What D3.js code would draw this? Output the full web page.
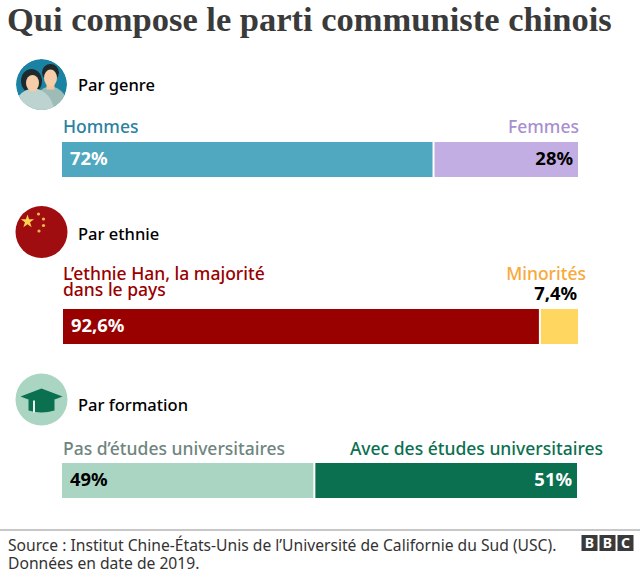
<!DOCTYPE html>
<html lang="fr">
<head>
<meta charset="utf-8">
<title>Qui compose le parti communiste chinois</title>
<script src="https://cdn.jsdelivr.net/npm/d3@7"></script>
<style>
  html, body { margin: 0; padding: 0; background: #fff; }
  svg { display: block; }
  text { font-family: "Noto Sans", sans-serif; }
</style>
</head>
<body>
<svg id="chart" viewBox="0 0 640 582" width="640" height="582"></svg>
<script>
const chartTitle = "Qui compose le parti communiste chinois"
const groupNames = ["Par genre", "Par ethnie", "Par formation"]
const leftNames = ["Hommes", "L’ethnie Han, la majorité|dans le pays", "Pas d’études universitaires"]
const rightNames = ["Femmes", "Minorités", "Avec des études universitaires"]
const leftValues = [72, 92.6, 49]
const rightValues = [28, 7.4, 51]
const leftLabels = ["72%", "92,6%", "49%"]
const rightLabels = ["28%", "7,4%", "51%"]
const sourceLines = ["Source : Institut Chine-États-Unis de l’Université de Californie du Sud (USC).", "Données en date de 2019."]

const svg = d3.select("#chart")

// layout of each block, the values stay in the arrays above
const layout = [
    {headY: 91, barY: 142, x0: 62, x1: 578, nameY: 133, rightNameX: 579, leftFill: "#4fa8bf", rightFill: "#c3aee3",
     leftColor: "#2b82a0", rightColor: "#a98fd0", leftText: "#fff", rightText: "#000"},
    {headY: 240, barY: 309, x0: 63, x1: 578, nameY: 280, rightNameX: 586, leftFill: "#990000", rightFill: "#ffd65f",
     leftColor: "#990000", rightColor: "#f9a83a", leftText: "#fff", rightText: "#000"},
    {headY: 411, barY: 463, x0: 62, x1: 577, nameY: 455, rightNameX: 603, leftFill: "#a9d5c2", rightFill: "#0a7050",
     leftColor: "#6f8580", rightColor: "#0a7050", leftText: "#000", rightText: "#fff"}
]
const barHeight = 35

svg.append("text")
    .attr("x", 7).attr("y", 31)
    .style("font-family", "'Liberation Serif', serif")
    .style("font-size", "34.5px")
    .style("font-weight", 700)
    .style("fill", "#3a3a3a")
    .text(chartTitle)

groupNames.forEach((name, i) => {
    const l = layout[i]
    const g = svg.append("g")
    const x = d3.scaleLinear().domain([0, 100]).range([l.x0, l.x1])

    g.append("text")
        .attr("x", 78).attr("y", l.headY)
        .style("font-size", "16.5px")
        .style("font-weight", 500)
        .style("fill", "#000")
        .text(name)

    // segment names
    leftNames[i].split("|").forEach((t, j) => {
        g.append("text")
            .attr("x", l.x0 + (i === 1 ? 0 : 1))
            .attr("y", l.nameY + j * 16)
            .style("font-size", "17.5px")
            .style("font-weight", 500)
            .style("fill", l.leftColor)
            .text(t)
    })
    g.append("text")
        .attr("x", l.rightNameX).attr("y", l.nameY)
        .attr("text-anchor", "end")
        .style("font-size", "17.5px")
        .style("font-weight", 500)
        .style("fill", l.rightColor)
        .text(rightNames[i])

    // bars
    g.append("rect")
        .attr("x", x(0)).attr("y", l.barY)
        .attr("width", x(leftValues[i]) - x(0) - 1)
        .attr("height", barHeight)
        .attr("fill", l.leftFill)
    g.append("rect")
        .attr("x", x(leftValues[i]) + 1).attr("y", l.barY)
        .attr("width", x(leftValues[i] + rightValues[i]) - x(leftValues[i]) - 1)
        .attr("height", barHeight)
        .attr("fill", l.rightFill)

    g.append("text")
        .attr("x", x(0) + 8).attr("y", l.barY + 23)
        .style("font-size", "18.4px")
        .style("font-weight", 700)
        .style("fill", l.leftText)
        .text(leftLabels[i])
    g.append("text")
        .attr("x", l.x1 - (i === 1 ? 1 : 5))
        .attr("y", i === 1 ? l.barY - 9 : l.barY + 23)
        .attr("text-anchor", "end")
        .style("font-size", "18.4px")
        .style("font-weight", 700)
        .style("fill", i === 1 ? "#000" : l.rightText)
        .text(rightLabels[i])
})

// icons
const peopleIcon = svg.append("g").attr("transform", "translate(41.5,84.5)")
peopleIcon.append("clipPath").attr("id", "clipPeople").append("circle").attr("r", 25.5)
const people = peopleIcon.append("g").attr("clip-path", "url(#clipPeople)")
people.append("circle").attr("r", 25.5).attr("fill", "#1a82a2")
people.append("circle").attr("cx", 9).attr("cy", -12).attr("r", 8.5).attr("fill", "#1f2a2c")
people.append("ellipse").attr("cx", 9).attr("cy", 28).attr("rx", 19).attr("ry", 26).attr("fill", "#9dbcb8")
people.append("rect").attr("x", 5).attr("y", -3).attr("width", 8).attr("height", 8).attr("fill", "#f0c7a0")
people.append("ellipse").attr("cx", 9).attr("cy", -6.5).attr("rx", 6.5).attr("ry", 8.5).attr("fill", "#f5cda8")
people.append("ellipse").attr("cx", -10).attr("cy", -3.5).attr("rx", 10.5).attr("ry", 12).attr("fill", "#1f2a2c")
people.append("ellipse").attr("cx", -8).attr("cy", 30).attr("rx", 21).attr("ry", 26).attr("fill", "#bcd3cf")
people.append("rect").attr("x", -12).attr("y", 0).attr("width", 7).attr("height", 7).attr("fill", "#f0c7a0")
people.append("ellipse").attr("cx", -9).attr("cy", -1.5).attr("rx", 6.5).attr("ry", 8).attr("fill", "#f5cda8")

const flagIcon = svg.append("g").attr("transform", "translate(41.5,232)")
flagIcon.append("circle").attr("r", 26).attr("fill", "#a00d10")
flagIcon.append("path")
    .attr("d", d3.symbol(d3.symbolStar, 55))
    .attr("transform", "translate(-14,-10.5)")
    .attr("fill", "#fcd14d")
const flagDots = [[-3, -18], [2, -13], [2, -6.5], [-2.5, -1]]
flagIcon.selectAll(".dot").data(flagDots).enter().append("circle")
    .attr("class", "dot")
    .attr("cx", d => d[0]).attr("cy", d => d[1]).attr("r", 1.6)
    .attr("fill", "#f2b84a")

const capIcon = svg.append("g").attr("transform", "translate(41.5,399.5)")
capIcon.append("circle").attr("r", 26).attr("fill", "#a9d5c2")
capIcon.append("path").attr("d", "M-13,0 L13,0 L13,11 Q0,15 -13,11 Z").attr("fill", "#0a7050")
capIcon.append("path").attr("d", "M0,-11 L21,-3 L0,5 L-21,-3 Z").attr("fill", "#0a7050")
capIcon.append("rect").attr("x", -8.5).attr("y", 1).attr("width", 2).attr("height", 12).attr("fill", "#e8f4ee")

// footer
svg.append("line")
    .attr("x1", 0).attr("x2", 640).attr("y1", 530).attr("y2", 530)
    .attr("stroke", "#b5b5b5").attr("stroke-width", 1.5)

svg.selectAll(".source").data(sourceLines).enter().append("text")
    .attr("class", "source")
    .attr("x", 8).attr("y", (d, i) => 551 + i * 18)
    .style("font-size", "15.65px")
    .style("fill", "#333")
    .text(d => d)

const logo = svg.append("g").attr("transform", "translate(581.5,535)")
logo.selectAll("g").data(["B", "B", "C"]).enter().append("g")
    .attr("transform", (d, i) => `translate(${i * 18},0)`)
    .each(function(d) {
        d3.select(this).append("rect").attr("width", 16).attr("height", 16).attr("fill", "#3a3a3a")
        d3.select(this).append("text")
            .attr("x", 8).attr("y", 13)
            .attr("text-anchor", "middle")
            .style("font-size", "14px")
            .style("font-weight", 700)
            .style("fill", "#fff")
            .text(d)
    })
</script>
</body>
</html>
